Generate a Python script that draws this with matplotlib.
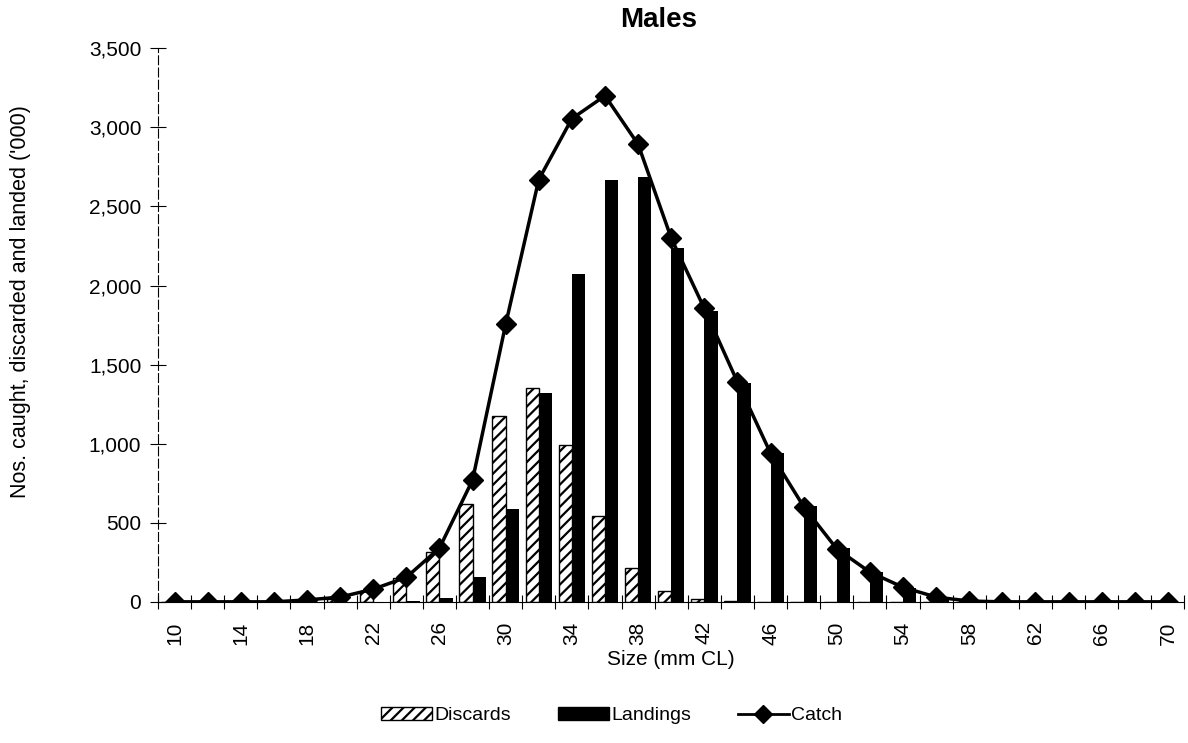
import numpy as np
import matplotlib
matplotlib.use("Agg")
import matplotlib.pyplot as plt
from matplotlib.patches import Patch
from matplotlib.lines import Line2D
from matplotlib.ticker import FuncFormatter

plt.rcParams['font.family'] = ['Liberation Sans', 'DejaVu Sans']
plt.rcParams['hatch.linewidth'] = 1.6

# size classes (mm CL)
sizes = list(range(10, 71, 2))
discards = [0, 0, 0, 0, 5, 20, 70, 150, 315, 620, 1175, 1355, 990, 540, 215, 70,
            15, 5, 0, 0, 0, 0, 0, 0, 0, 0, 0, 0, 0, 0, 0]
landings = [0, 0, 0, 0, 0, 0, 0, 5, 25, 155, 585, 1320, 2075, 2670, 2685, 2240,
            1840, 1385, 940, 605, 340, 188, 90, 25, 5, 0, 0, 0, 0, 0, 0]
catch = [0, 0, 0, 0, 12, 30, 80, 155, 340, 770, 1755, 2670, 3055, 3200, 2893, 2300,
         1855, 1390, 940, 602, 335, 188, 92, 30, 5, 0, 0, 0, 0, 0, 0]

x = np.arange(len(sizes))
w = 0.4

fig = plt.figure(figsize=(11.88, 7.43), dpi=100)
ax = fig.add_axes([0.133, 0.19, 0.864, 0.745])

ax.bar(x - w / 2, discards, width=w, facecolor='white', edgecolor='black',
       hatch='///', linewidth=1.0, zorder=2)
ax.bar(x + w / 2, landings, width=w, color='black', zorder=2)
ax.plot(x, catch, color='black', lw=2.5, marker='D', markersize=10, zorder=3)

ax.set_xlim(-0.5, len(sizes) - 0.5)
ax.set_ylim(0, 3500)
ax.set_yticks(np.arange(0, 3501, 500))
ax.yaxis.set_major_formatter(FuncFormatter(lambda v, p: f"{int(v):,}"))

lab_idx = x[::2]
ax.set_xticks(lab_idx)
ax.set_xticklabels([str(sizes[i]) for i in lab_idx], rotation=90)
ax.set_xticks(np.arange(-0.5, len(sizes), 1), minor=True)
ax.tick_params(axis='x', which='major', length=0, pad=14, labelsize=15)
ax.tick_params(axis='x', which='minor', direction='inout', length=10, width=0.8)
ax.tick_params(axis='y', direction='inout', length=12, width=0.8, labelsize=15, pad=6)

for s in ['top', 'right']:
    ax.spines[s].set_visible(False)
ax.spines['left'].set_linewidth(0.8)
ax.spines['left'].set_linestyle((0, (8, 3)))
ax.spines['bottom'].set_linewidth(0.8)

fig.text(0.554, 0.973, 'Males', fontsize=20, fontweight='bold', ha='center', va='center')
ax.set_xlabel('Size (mm CL)', fontsize=15, labelpad=4)
fig.text(0.017, 1 - 302 / 743, "Nos. caught, discarded and landed ('000)",
         fontsize=15.5, rotation=90, ha='center', va='center')

handles = [
    Patch(facecolor='white', edgecolor='black', hatch='///', label='Discards'),
    Patch(facecolor='black', edgecolor='black', label='Landings'),
    Line2D([0], [0], color='black', lw=2, marker='D', markersize=9, label='Catch'),
]
fig.legend(handles=handles, loc='center', bbox_to_anchor=(0.515, 0.037), ncol=3,
           frameon=False, fontsize=14, columnspacing=2.4, handlelength=2.6,
           handletextpad=0.15)

fig.savefig('out.png', dpi=100)
